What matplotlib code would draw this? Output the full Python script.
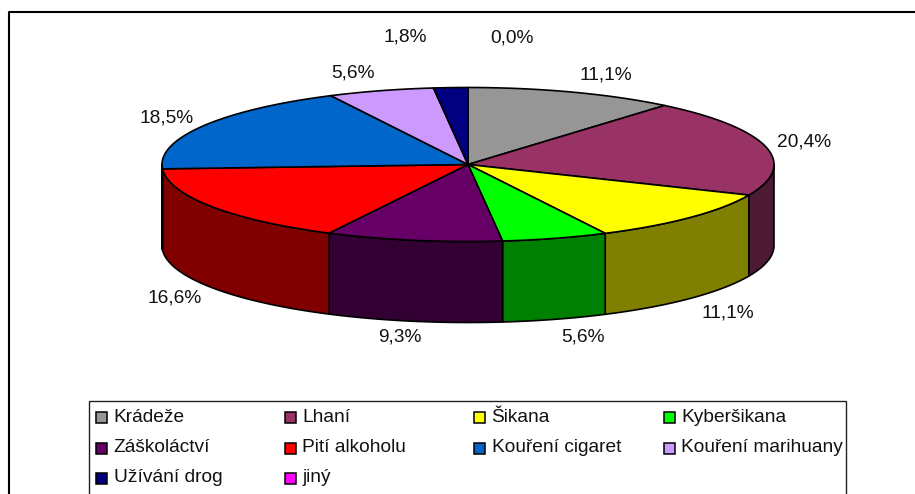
import numpy as np
import matplotlib
matplotlib.use("Agg")
import matplotlib.pyplot as plt
from matplotlib.patches import Polygon, Rectangle

plt.rcParams['font.family'] = ['Liberation Sans', 'DejaVu Sans']

categories = ["Krádeže", "Lhaní", "Šikana", "Kyberšikana", "Záškoláctví",
              "Pití alkoholu", "Kouření cigaret", "Kouření marihuany",
              "Užívání drog", "jiný"]
values = [11.1, 20.4, 11.1, 5.6, 9.3, 16.6, 18.5, 5.6, 1.8, 0.0]
labels = ["11,1%", "20,4%", "11,1%", "5,6%", "9,3%", "16,6%", "18,5%", "5,6%", "1,8%", "0,0%"]
colors = ["#969696", "#993366", "#FFFF00", "#00FF00", "#660066",
          "#FF0000", "#0066CC", "#CC99FF", "#000080", "#FF00FF"]
side_colors = ["#4B4B4B", "#4D1A33", "#808000", "#008000", "#330033",
               "#800000", "#003366", "#664D80", "#000040", "#800080"]
label_pos = [(606, 75), (804, 142), (728, 313), (583, 337), (400, 337),
             (175, 298), (167, 118), (353, 73), (405, 37), (512, 38)]

W, H = 915, 494
CX, CY, RX, RY, DEPTH = 468, 164.5, 306, 77, 81
LW = 1.2
FS = 13.8

fig = plt.figure(figsize=(W / 100, H / 100), dpi=100, facecolor="white")
ax = fig.add_axes([0, 0, 1, 1])
ax.set_xlim(0, W)
ax.set_ylim(H, 0)
ax.axis("off")

# chart frame (open on the right and bottom, cut by the picture edge)
ax.plot([8.5, 8.5, W + 5], [H + 5, 12.5, 12.5], color="black", lw=1.5, clip_on=False)


def rim(t, dy=0.0):
    return np.column_stack([CX + RX * np.sin(t), CY - RY * np.cos(t) + dy])


edges = np.radians(np.concatenate([[0], np.cumsum(values)]) * 360.0 / sum(values))

# outer wall, only the part that faces the viewer
for i in range(len(values)):
    a, b = max(edges[i], np.pi / 2), min(edges[i + 1], 3 * np.pi / 2)
    if b > a:
        t = np.linspace(a, b, 80)
        pts = np.vstack([rim(t), rim(t[::-1], DEPTH)])
        ax.add_patch(Polygon(pts, closed=True, facecolor=side_colors[i],
                             edgecolor="black", lw=LW, joinstyle="round"))

# top face
for i in range(len(values)):
    if values[i] > 0:
        t = np.linspace(edges[i], edges[i + 1], 120)
        pts = np.vstack([[CX, CY], rim(t)])
        ax.add_patch(Polygon(pts, closed=True, facecolor=colors[i],
                             edgecolor="black", lw=LW, joinstyle="round"))

for s, (x, y) in zip(labels, label_pos):
    ax.text(x, y, s, ha="center", va="center", fontsize=FS, color="#111111")

# legend
ax.add_patch(Rectangle((88.5, 400.5), 757.5, 120, facecolor="white",
                       edgecolor="#222222", lw=1.0, clip_on=True))
col_x = [96, 285, 474, 663.5]
row_y = [417, 447.5, 477.5]
for i, name in enumerate(categories):
    r, c = divmod(i, 4)
    ax.add_patch(Rectangle((col_x[c], row_y[r] - 5), 11, 11, facecolor=colors[i],
                           edgecolor="black", lw=1.1))
    ax.text(col_x[c] + 17.5, row_y[r], name, ha="left", va="center",
            fontsize=FS, color="#111111")

fig.savefig("out.png", dpi=100, facecolor="white")
